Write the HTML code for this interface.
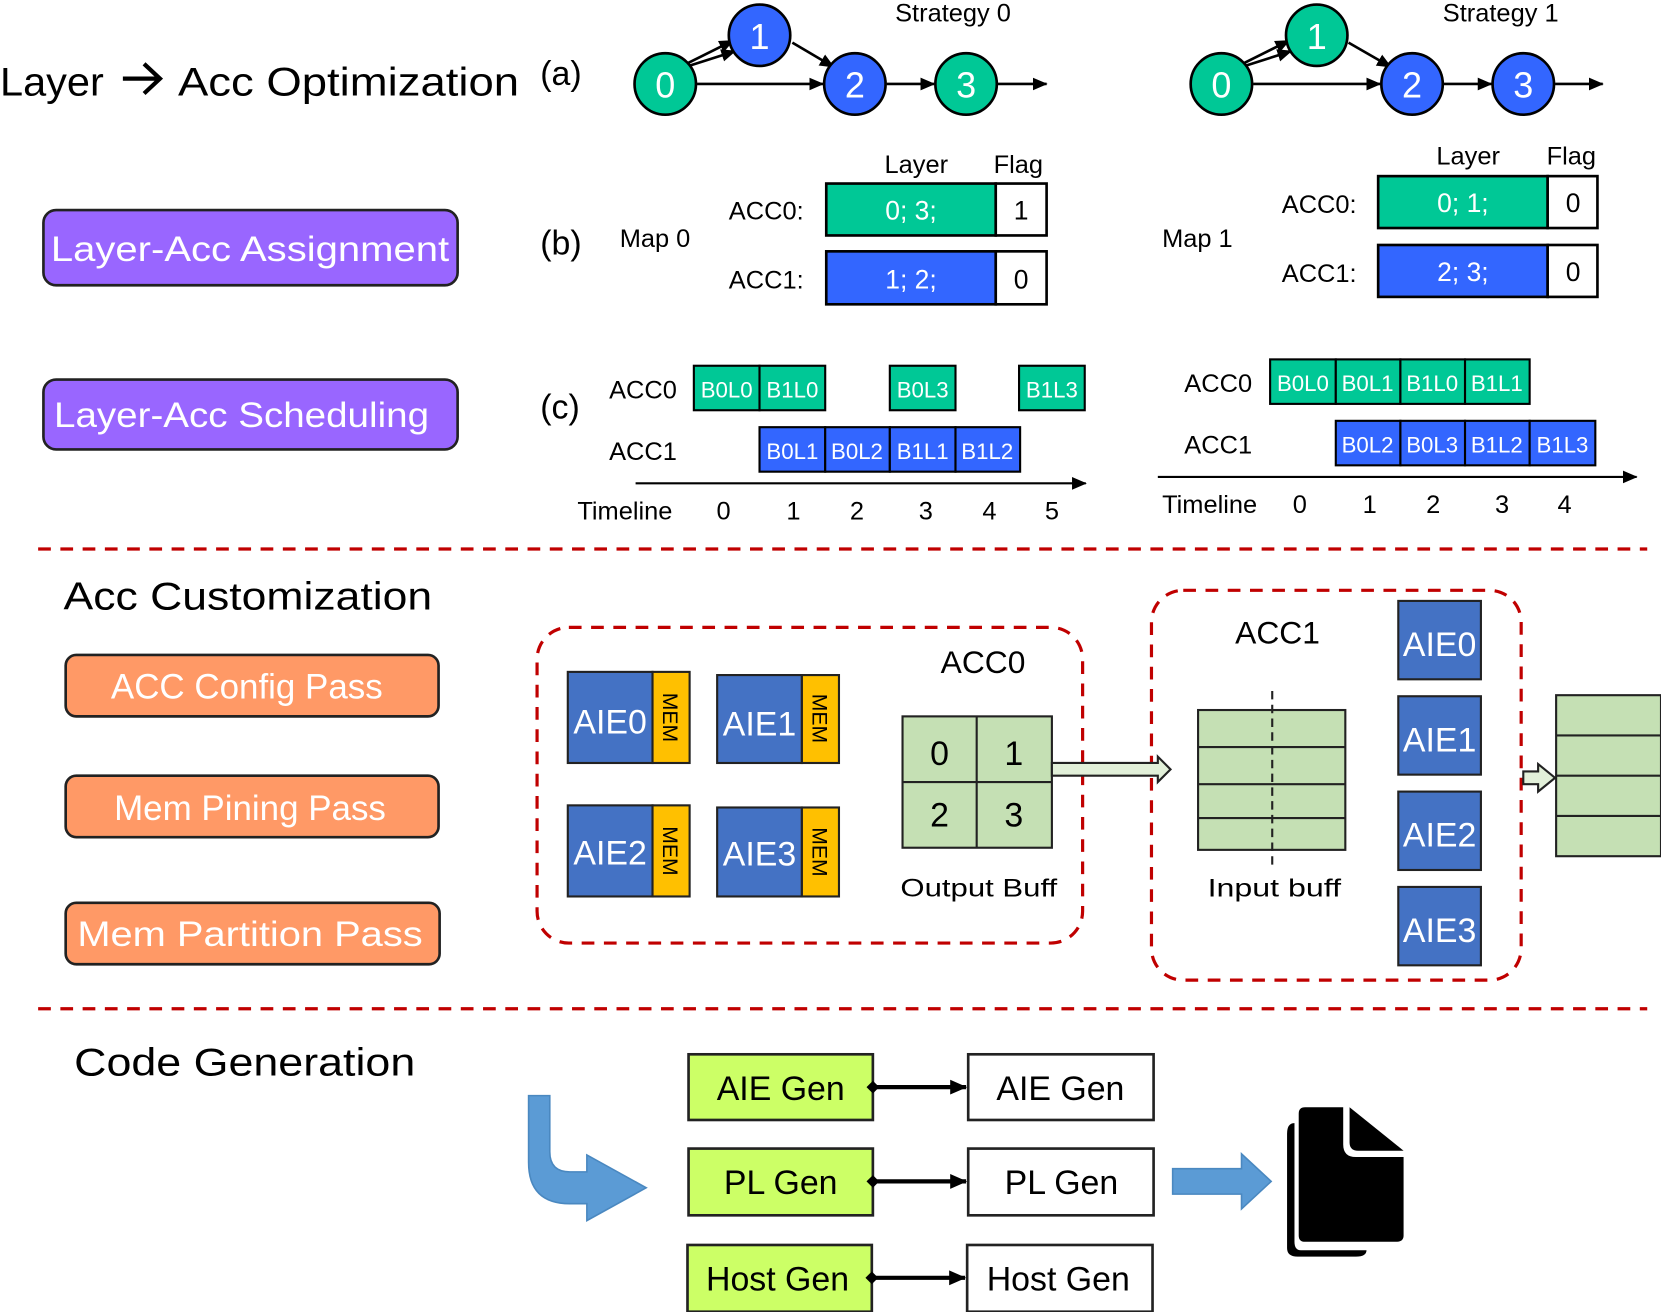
<!DOCTYPE html>
<html><head><meta charset="utf-8"><style>html,body{margin:0;padding:0;background:#fff}svg{display:block}text{font-family:"Liberation Sans",sans-serif}</style></head><body>
<svg width="1661" height="1312" viewBox="0 0 1568 1238" xmlns="http://www.w3.org/2000/svg">
<defs>
<marker id="ah" markerWidth="14" markerHeight="14" refX="13" refY="7" orient="auto" markerUnits="userSpaceOnUse" viewBox="0 0 14 14"><path d="M0,1 L14,7 L0,13z" fill="#000"/></marker>
<marker id="ah2" markerWidth="16" markerHeight="16" refX="15" refY="8" orient="auto" markerUnits="userSpaceOnUse" viewBox="0 0 16 16"><path d="M0,1 L16,8 L0,15z" fill="#000"/></marker>
<marker id="dm" markerWidth="12" markerHeight="12" refX="6" refY="6" orient="auto" markerUnits="userSpaceOnUse" viewBox="0 0 12 12"><path d="M0,6 L6,0 L12,6 L6,12z" fill="#000"/></marker>
</defs>
<text x="0" y="90" font-size="38" textLength="98" lengthAdjust="spacingAndGlyphs">Layer</text>
<path d="M116,74 L150,74 M136,60 L151,74 L136,88" stroke="#000" stroke-width="4" fill="none"/>
<text x="168" y="90" font-size="38" textLength="322" lengthAdjust="spacingAndGlyphs">Acc Optimization</text>
<text x="510" y="80" font-size="32">(a)</text>
<text x="845" y="20" font-size="24">Strategy 0</text>
<text x="1362" y="20" font-size="24">Strategy 1</text>
<g stroke="#000" stroke-width="2.5" fill="none">
<line x1="648" y1="60" x2="692" y2="38" marker-end="url(#ah)"/><line x1="650" y1="62" x2="694" y2="48" marker-end="url(#ah)"/>
<line x1="748" y1="40" x2="787" y2="63" marker-end="url(#ah)"/><line x1="658" y1="79" x2="777" y2="79" marker-end="url(#ah)"/>
<line x1="837" y1="79" x2="882" y2="79" marker-end="url(#ah)"/><line x1="942" y1="79" x2="988" y2="79" marker-end="url(#ah)"/>
<line x1="1173" y1="60" x2="1217" y2="38" marker-end="url(#ah)"/><line x1="1175" y1="62" x2="1219" y2="48" marker-end="url(#ah)"/>
<line x1="1273" y1="40" x2="1313" y2="63" marker-end="url(#ah)"/><line x1="1183" y1="79" x2="1303" y2="79" marker-end="url(#ah)"/>
<line x1="1363" y1="79" x2="1408" y2="79" marker-end="url(#ah)"/><line x1="1468" y1="79" x2="1513" y2="79" marker-end="url(#ah)"/>
</g>
<g stroke="#000" stroke-width="2.5">
<circle cx="628" cy="79" r="29" fill="#00c896"/><circle cx="717" cy="33" r="29" fill="#3366ff"/><circle cx="807" cy="79" r="29" fill="#3366ff"/><circle cx="912" cy="79" r="29" fill="#00c896"/>
<circle cx="1153" cy="79" r="29" fill="#00c896"/><circle cx="1243" cy="33" r="29" fill="#00c896"/><circle cx="1333" cy="79" r="29" fill="#3366ff"/><circle cx="1438" cy="79" r="29" fill="#3366ff"/>
</g>
<g fill="#fff" font-size="34" text-anchor="middle">
<text x="628" y="92">0</text><text x="717" y="46">1</text><text x="807" y="92">2</text><text x="912" y="92">3</text>
<text x="1153" y="92">0</text><text x="1243" y="46">1</text><text x="1333" y="92">2</text><text x="1438" y="92">3</text>
</g>
<!-- purple -->
<rect x="41" y="198" width="391" height="71" rx="12" fill="#9966ff" stroke="#222" stroke-width="2.5"/>
<text x="236" y="246" font-size="33" fill="#fff" text-anchor="middle" textLength="376" lengthAdjust="spacingAndGlyphs">Layer-Acc  Assignment</text>
<rect x="41" y="358" width="391" height="66" rx="12" fill="#9966ff" stroke="#222" stroke-width="2.5"/>
<text x="228" y="403" font-size="33" fill="#fff" text-anchor="middle" textLength="354" lengthAdjust="spacingAndGlyphs">Layer-Acc Scheduling</text>
<!-- (b) -->
<text x="510" y="240" font-size="32">(b)</text>
<g font-size="24">
<text x="585" y="233">Map 0</text><text x="1097" y="233">Map 1</text>
<text x="835" y="163">Layer</text><text x="938" y="163">Flag</text>
<text x="1356" y="155">Layer</text><text x="1460" y="155">Flag</text>
<text x="688" y="207">ACC0:</text><text x="688" y="272">ACC1:</text>
<text x="1210" y="201">ACC0:</text><text x="1210" y="266">ACC1:</text>
</g>
<g stroke="#000" stroke-width="2.5">
<rect x="780" y="173" width="160" height="49" fill="#00c896"/><rect x="940" y="173" width="48" height="49" fill="#fff"/>
<rect x="780" y="237" width="160" height="50" fill="#3366ff"/><rect x="940" y="237" width="48" height="50" fill="#fff"/>
<rect x="1301" y="166" width="160" height="49" fill="#00c896"/><rect x="1461" y="166" width="47" height="49" fill="#fff"/>
<rect x="1301" y="231" width="160" height="49" fill="#3366ff"/><rect x="1461" y="231" width="47" height="49" fill="#fff"/>
</g>
<g font-size="25" text-anchor="middle">
<text x="860" y="207" fill="#fff">0; 3;</text><text x="964" y="207">1</text>
<text x="860" y="272" fill="#fff">1; 2;</text><text x="964" y="272">0</text>
<text x="1381" y="200" fill="#fff">0; 1;</text><text x="1485" y="200">0</text>
<text x="1381" y="265" fill="#fff">2; 3;</text><text x="1485" y="265">0</text>
</g>
<!-- (c) -->
<text x="510" y="395" font-size="32">(c)</text>
<g font-size="24"><text x="575" y="376">ACC0</text><text x="575" y="434">ACC1</text><text x="1118" y="370">ACC0</text><text x="1118" y="428">ACC1</text>
<text x="545" y="490">Timeline</text><text x="1097" y="484">Timeline</text></g>
<g font-size="24" text-anchor="middle"><text x="683" y="490">0</text><text x="749" y="490">1</text><text x="809" y="490">2</text><text x="874" y="490">3</text><text x="934" y="490">4</text><text x="993" y="490">5</text>
<text x="1227" y="484">0</text><text x="1293" y="484">1</text><text x="1353" y="484">2</text><text x="1418" y="484">3</text><text x="1477" y="484">4</text></g>
<g stroke="#000" stroke-width="2">
<rect x="655" y="345" width="62" height="42" fill="#00c896"/><rect x="717" y="345" width="62" height="42" fill="#00c896"/><rect x="840" y="345" width="62" height="42" fill="#00c896"/><rect x="962" y="345" width="62" height="42" fill="#00c896"/>
<rect x="717" y="403" width="62" height="42" fill="#3366ff"/><rect x="779" y="403" width="61" height="42" fill="#3366ff"/><rect x="840" y="403" width="62" height="42" fill="#3366ff"/><rect x="902" y="403" width="61" height="42" fill="#3366ff"/>
<rect x="1199" y="339" width="62" height="42" fill="#00c896"/><rect x="1261" y="339" width="61" height="42" fill="#00c896"/><rect x="1322" y="339" width="61" height="42" fill="#00c896"/><rect x="1383" y="339" width="61" height="42" fill="#00c896"/>
<rect x="1261" y="397" width="61" height="42" fill="#3366ff"/><rect x="1322" y="397" width="61" height="42" fill="#3366ff"/><rect x="1383" y="397" width="61" height="42" fill="#3366ff"/><rect x="1444" y="397" width="62" height="42" fill="#3366ff"/>
</g>
<g font-size="21" fill="#fff" text-anchor="middle">
<text x="686" y="375">B0L0</text><text x="748" y="375">B1L0</text><text x="871" y="375">B0L3</text><text x="993" y="375">B1L3</text>
<text x="748" y="433">B0L1</text><text x="809" y="433">B0L2</text><text x="871" y="433">B1L1</text><text x="932" y="433">B1L2</text>
<text x="1230" y="369">B0L0</text><text x="1291" y="369">B0L1</text><text x="1352" y="369">B1L0</text><text x="1413" y="369">B1L1</text>
<text x="1291" y="427">B0L2</text><text x="1352" y="427">B0L3</text><text x="1413" y="427">B1L2</text><text x="1475" y="427">B1L3</text>
</g>
<line x1="600" y1="456" x2="1025" y2="456" stroke="#000" stroke-width="2" marker-end="url(#ah)"/>
<line x1="1093" y1="450" x2="1545" y2="450" stroke="#000" stroke-width="2" marker-end="url(#ah)"/>
<!-- separators -->
<line x1="36" y1="518" x2="1555" y2="518" stroke="#c00000" stroke-width="3" stroke-dasharray="12,9"/>
<line x1="36" y1="952" x2="1555" y2="952" stroke="#c00000" stroke-width="3" stroke-dasharray="12,9"/>
<!-- Acc customization -->
<text x="60" y="575" font-size="37" textLength="348" lengthAdjust="spacingAndGlyphs">Acc Customization</text>
<g stroke="#222" stroke-width="2.5" fill="#ff9966">
<rect x="62" y="618" width="352" height="58" rx="10"/><rect x="62" y="732" width="352" height="58" rx="10"/><rect x="62" y="852" width="353" height="58" rx="10"/></g>
<g font-size="33" fill="#fff" text-anchor="middle"><text x="233" y="659">ACC Config Pass</text><text x="236" y="774">Mem Pining Pass</text><text x="236" y="893" textLength="326" lengthAdjust="spacingAndGlyphs">Mem Partition Pass</text></g>
<rect x="507" y="592" width="515" height="298" rx="30" fill="none" stroke="#c00000" stroke-width="3" stroke-dasharray="12,9"/>
<rect x="1087" y="557" width="349" height="368" rx="30" fill="none" stroke="#c00000" stroke-width="3" stroke-dasharray="12,9"/>
<g stroke="#222" stroke-width="2">
<rect x="536" y="634" width="80" height="86" fill="#4472c4"/><rect x="616" y="634" width="35" height="86" fill="#ffc000"/>
<rect x="677" y="637" width="80" height="83" fill="#4472c4"/><rect x="757" y="637" width="35" height="83" fill="#ffc000"/>
<rect x="536" y="760" width="80" height="86" fill="#4472c4"/><rect x="616" y="760" width="35" height="86" fill="#ffc000"/>
<rect x="677" y="762" width="80" height="84" fill="#4472c4"/><rect x="757" y="762" width="35" height="84" fill="#ffc000"/>
<rect x="852" y="676" width="141" height="124" fill="#c5e0b4"/><line x1="922" y1="676" x2="922" y2="800"/><line x1="852" y1="738" x2="993" y2="738"/>
<rect x="1131" y="670" width="139" height="132" fill="#c5e0b4"/><line x1="1131" y1="705" x2="1270" y2="705"/><line x1="1131" y1="740" x2="1270" y2="740"/><line x1="1131" y1="772" x2="1270" y2="772"/>
<rect x="1469" y="656" width="99" height="152" fill="#c5e0b4"/><line x1="1469" y1="694" x2="1568" y2="694"/><line x1="1469" y1="732" x2="1568" y2="732"/><line x1="1469" y1="770" x2="1568" y2="770"/>
<rect x="1320" y="567" width="78" height="74" fill="#4472c4"/><rect x="1320" y="657" width="78" height="74" fill="#4472c4"/><rect x="1320" y="747" width="78" height="74" fill="#4472c4"/><rect x="1320" y="837" width="78" height="74" fill="#4472c4"/>
</g>
<line x1="1201" y1="652" x2="1201" y2="818" stroke="#222" stroke-width="2" stroke-dasharray="8,5"/>
<g font-size="32" fill="#fff" text-anchor="middle"><text x="576" y="692">AIE0</text><text x="717" y="694">AIE1</text><text x="576" y="816">AIE2</text><text x="717" y="817">AIE3</text>
<text x="1359" y="619">AIE0</text><text x="1359" y="709">AIE1</text><text x="1359" y="799">AIE2</text><text x="1359" y="889">AIE3</text></g>
<g font-size="20" text-anchor="middle"><text transform="translate(626,677) rotate(90)">MEM</text><text transform="translate(767,678) rotate(90)">MEM</text><text transform="translate(626,803) rotate(90)">MEM</text><text transform="translate(767,804) rotate(90)">MEM</text></g>
<g font-size="32" text-anchor="middle"><text x="887" y="722">0</text><text x="957" y="722">1</text><text x="887" y="780">2</text><text x="957" y="780">3</text></g>
<text x="928" y="635" font-size="30" text-anchor="middle">ACC0</text>
<text x="1206" y="607" font-size="30" text-anchor="middle">ACC1</text>
<text x="924" y="846" font-size="24" text-anchor="middle" textLength="148" lengthAdjust="spacingAndGlyphs">Output Buff</text>
<text x="1203" y="846" font-size="24" text-anchor="middle" textLength="126" lengthAdjust="spacingAndGlyphs">Input buff</text>
<path d="M993,720 L1093,720 L1093,714 L1105,726 L1093,738 L1093,732 L993,732 Z" fill="#e2f0d9" stroke="#222" stroke-width="2"/>
<path d="M1438,728 L1452,728 L1452,721 L1468,734 L1452,747 L1452,740 L1438,740 Z" fill="#e2f0d9" stroke="#222" stroke-width="2"/>
<!-- code gen -->
<text x="70" y="1015" font-size="37" textLength="322" lengthAdjust="spacingAndGlyphs">Code Generation</text>
<path d="M499,1034 L519,1034 L519,1087 Q519,1106 538,1106 L554,1106 L554,1090 L610,1121 L554,1152 L554,1136 L538,1136 Q499,1136 499,1097 Z" fill="#5b9bd5" stroke="#4a88c0" stroke-width="1.5"/>
<path d="M1107,1103 L1172,1103 L1172,1089 L1200,1115 L1172,1141 L1172,1127 L1107,1127 Z" fill="#5b9bd5" stroke="#4a88c0" stroke-width="1.5"/>
<g stroke="#222" stroke-width="2.5">
<rect x="650" y="995" width="174" height="62" fill="#ccff66"/><rect x="650" y="1084" width="174" height="63" fill="#ccff66"/><rect x="649" y="1175" width="174" height="63" fill="#ccff66"/>
<rect x="914" y="995" width="175" height="62" fill="#fff"/><rect x="914" y="1084" width="175" height="63" fill="#fff"/><rect x="913" y="1175" width="175" height="63" fill="#fff"/>
</g>
<g stroke="#000" stroke-width="4"><line x1="824" y1="1026" x2="912" y2="1026" marker-start="url(#dm)" marker-end="url(#ah2)"/><line x1="824" y1="1115" x2="912" y2="1115" marker-start="url(#dm)" marker-end="url(#ah2)"/><line x1="823" y1="1206" x2="911" y2="1206" marker-start="url(#dm)" marker-end="url(#ah2)"/></g>
<g font-size="32" text-anchor="middle"><text x="737" y="1038">AIE Gen</text><text x="1001" y="1038">AIE Gen</text><text x="737" y="1127">PL Gen</text><text x="1002" y="1127">PL Gen</text><text x="734" y="1218">Host Gen</text><text x="999" y="1218">Host Gen</text></g>
<path d="M1222,1060 Q1215,1060 1215,1070 L1215,1178 Q1215,1186 1225,1186 L1280,1186 Q1290,1186 1290,1180 L1228,1180 Q1222,1180 1222,1172 Z" fill="#000"/>
<path d="M1232,1045 L1268,1045 L1268,1080 Q1268,1092 1280,1092 L1325,1092 L1325,1166 Q1325,1172 1318,1172 L1232,1172 Q1226,1172 1226,1166 L1226,1051 Q1226,1045 1232,1045 Z" fill="#000"/>
<path d="M1274,1045 L1325,1086 L1282,1086 Q1274,1086 1274,1078 Z" fill="#000"/>
</svg>
</body></html>
